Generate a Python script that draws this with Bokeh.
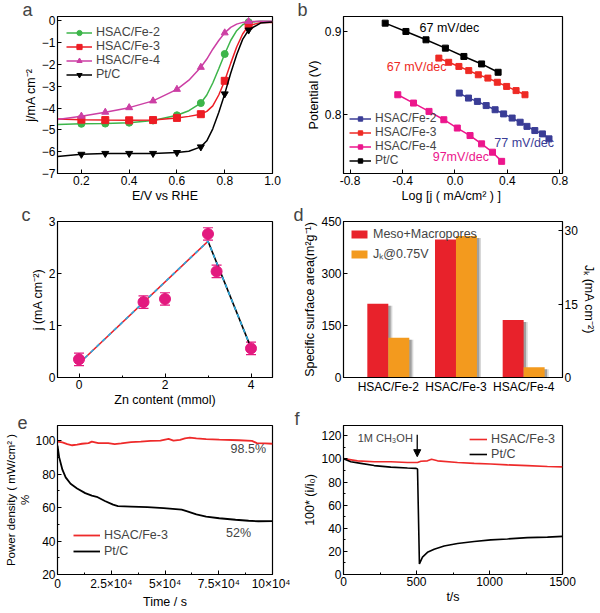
from bokeh.plotting import figure
from bokeh.layouts import gridplot
from bokeh.models import (Range1d, FixedTicker, Label, Legend, LegendItem, LinearAxis,
                          Whisker, TeeHead, Arrow, NormalHead, ColumnDataSource,
                          PrintfTickFormatter)
from bokeh.embed import file_html
from bokeh.resources import INLINE

FONT = "Liberation Sans"

# ---------------- panel a : LSV curves ----------------
E_curve = [0.1, 0.2, 0.3, 0.4, 0.5, 0.6, 0.65, 0.7, 0.725, 0.75, 0.775, 0.8, 0.825, 0.85, 0.875, 0.9, 0.95, 1.0]
j_fe2 = [-4.75, -4.72, -4.71, -4.67, -4.57, -4.33, -4.12, -3.77, -3.4, -2.85, -2.2, -1.52, -0.9, -0.45, -0.18, -0.06, -0.02, -0.03]
j_fe3 = [-4.5, -4.53, -4.55, -4.56, -4.55, -4.45, -4.38, -4.28, -4.15, -3.9, -3.4, -2.75, -1.95, -1.2, -0.6, -0.22, -0.08, -0.08]
j_fe4 = [-4.52, -4.37, -4.19, -3.98, -3.67, -3.14, -2.72, -2.13, -1.75, -1.3, -0.9, -0.55, -0.3, -0.15, -0.07, -0.03, -0.02, -0.02]
j_ptc = [-6.22, -6.12, -6.08, -6.08, -6.08, -6.04, -5.98, -5.78, -5.5, -4.95, -4.2, -3.35, -2.4, -1.55, -0.85, -0.42, -0.1, -0.05]
E_marker = [0.2, 0.3, 0.4, 0.5, 0.6, 0.7, 0.8, 0.9]
a_names = ["HSAC/Fe-2", "HSAC/Fe-3", "HSAC/Fe-4", "Pt/C"]

# ---------------- panel b : Tafel ----------------
logj_fe2 = [0.033, 0.103, 0.171, 0.238, 0.306, 0.371, 0.436, 0.497, 0.549, 0.609, 0.667, 0.717]
V_fe2 = [0.826, 0.820, 0.816, 0.811, 0.806, 0.801, 0.796, 0.791, 0.786, 0.781, 0.777, 0.771]
logj_fe3 = [-0.123, -0.048, 0.030, 0.105, 0.178, 0.251, 0.323, 0.394, 0.466, 0.534]
V_fe3 = [0.868, 0.863, 0.858, 0.853, 0.848, 0.844, 0.839, 0.834, 0.829, 0.824]
logj_fe4 = [-0.436, -0.316, -0.198, -0.085, 0.018, 0.115, 0.203, 0.286, 0.356]
V_fe4 = [0.824, 0.814, 0.804, 0.794, 0.784, 0.775, 0.765, 0.755, 0.744]
logj_ptc = [-0.532, -0.374, -0.221, -0.073, 0.068, 0.203, 0.329]
V_ptc = [0.910, 0.900, 0.890, 0.880, 0.870, 0.861, 0.851]
slopes = ["77 mV/dec", "67 mV/dec", "97mV/dec", "67 mV/dec"]

# ---------------- panel c ----------------
zn = [0, 1.5, 2, 3, 3.2, 4]
j_zn = [0.35, 1.45, 1.51, 2.76, 2.04, 0.56]
j_err = [0.12, 0.12, 0.12, 0.12, 0.12, 0.12]
fit_zn = [0, 3, 4]
fit_j = [0.27, 2.62, 0.57]

# ---------------- panel d ----------------
samples = ["HSAC/Fe-2", "HSAC/Fe-3", "HSAC/Fe-4"]
meso_area = [213, 398, 166]
jk_075 = [8.1, 28.9, 2.1]

# ---------------- panel e ----------------
t_e_fe3 = [0, 2280, 4560, 6840, 9120, 11400, 14440, 15960, 19000, 23560, 26600, 29640, 34200, 38750,
           43310, 47870, 51670, 53950, 56990, 59270, 61550, 64590, 69150, 75230, 84350, 90430, 92710, 96500, 100000]
pd_fe3 = [99.4, 98.9, 97.9, 97.2, 97.6, 98.1, 98.5, 99.4, 98.5, 98.5, 97.9, 98.3, 99.1, 99.4,
          99.8, 100.0, 101.0, 100.0, 100.4, 101.3, 101.7, 101.3, 100.9, 100.6, 100.2, 99.8, 98.5, 98.3, 98.1]
t_e_ptc = [0, 760, 2280, 3800, 6080, 9120, 12900, 15960, 18240, 22040, 25840, 28100, 34200, 41800,
           49400, 57750, 60030, 64590, 69150, 75230, 82830, 88900, 93470, 100000]
pd_ptc = [97.0, 90.1, 82.6, 78.0, 74.2, 71.4, 68.6, 67.1, 66.4, 63.9, 61.7, 60.9, 60.6, 60.2,
          59.6, 58.7, 57.8, 55.9, 54.6, 53.6, 52.7, 52.1, 51.8, 51.9]
e_xticks = [0, 25000, 50000, 75000, 100000]
e_xlabels = ["0", "2.5×10⁴", "5×10⁴", "7.5×10⁴", "10×10⁴"]

# ---------------- panel f ----------------
t_f_fe3 = [0, 96, 210, 324, 438, 507, 530, 575, 603, 644, 781, 895, 1009, 1123, 1260, 1397, 1500]
r_fe3 = [100.3, 98.4, 97.6, 97.6, 97.0, 97.0, 98.1, 98.4, 99.7, 98.4, 97.0, 96.2, 95.7, 94.9, 94.3, 93.5, 93.2]
t_f_ptc = [0, 50, 119, 210, 324, 438, 495, 507, 520, 541, 575, 621, 689, 781, 895, 1009, 1123, 1260, 1397, 1500]
r_ptc = [100.3, 97.6, 96.2, 94.3, 93.0, 92.2, 91.9, 91.4, 9.2, 15.1, 19.2, 21.9, 24.6, 26.8, 28.6, 30.0, 30.8, 31.9, 32.4, 33.0]
methanol_t = 505

# ---------------- helpers ----------------
LW, RW = 290, 308
ROW_H = [205, 204, 202]


def style_axis(ax, tick_font="12px", title_font="12.5px"):
    ax.major_tick_in = 4
    ax.major_tick_out = 0
    ax.minor_tick_in = 2
    ax.minor_tick_out = 0
    ax.major_label_text_font = FONT
    ax.major_label_text_font_size = tick_font
    ax.major_label_text_color = "black"
    ax.axis_label_text_font = FONT
    ax.axis_label_text_font_size = title_font
    ax.axis_label_text_font_style = "normal"
    ax.axis_label_text_color = "black"
    ax.major_label_standoff = 2
    ax.axis_label_standoff = 1
    ax.axis_line_color = "black"
    ax.major_tick_line_color = "black"
    ax.minor_tick_line_color = "black"


def base_fig(w, row, bl, br, xr, yr, letter, dx):
    p = figure(width=w, height=ROW_H[row], x_range=Range1d(*xr), y_range=Range1d(*yr),
               output_backend="svg", toolbar_location=None,
               min_border_left=bl, min_border_right=br, min_border_top=0, min_border_bottom=0,
               background_fill_color="white", border_fill_color="white")
    p.xgrid.visible = False
    p.ygrid.visible = False
    p.outline_line_color = "black"
    p.outline_line_width = 1.2
    for ax in p.axis:
        style_axis(ax)
    # panel letter as the figure title, pulled left of the frame
    p.title.text = letter
    p.title.text_font = FONT
    p.title.text_font_size = "18px"
    p.title.text_font_style = "normal"
    p.title.align = "left"
    p.title.offset = dx
    p.title.standoff = -6
    return p


def legend(items, loc, font="12.5px", gw=24, gh=12, spacing=0, margin=6, padding=2):
    return Legend(items=items, location=loc, label_text_font=FONT, label_text_font_size=font,
                  glyph_width=gw, glyph_height=gh, label_height=gh, spacing=spacing,
                  margin=margin, padding=padding, background_fill_alpha=0, border_line_alpha=0,
                  label_standoff=4)

# ================= panel a =================
pa = base_fig(LW, 0, 53, 15, (0.1, 1.0), (-7.0, 0.2), "a", -35)
pa.xaxis.ticker = FixedTicker(ticks=[0.2, 0.4, 0.6, 0.8, 1.0])
pa.xaxis.formatter = PrintfTickFormatter(format="%.1f")
pa.yaxis.ticker = FixedTicker(ticks=[-7, -6, -5, -4, -3, -2, -1, 0])
pa.xaxis.axis_label = "E/V vs RHE"
pa.yaxis.axis_label = "j/mA cm⁻²"
a_cols = ["#3DB54A", "#ED1C24", "#CC3FA4", "#000000"]
a_marks = ["circle", "square", "triangle", "inverted_triangle"]
a_items = []
for name, ys, col, mk in zip(a_names, [j_fe2, j_fe3, j_fe4, j_ptc], a_cols, a_marks):
    lr = pa.line(E_curve, ys, line_color=col, line_width=1.5)
    mx = [e for e in E_curve if e in E_marker]
    my = [y for e, y in zip(E_curve, ys) if e in E_marker]
    sr = pa.scatter(mx, my, marker=mk, size=7, fill_color=col, line_color=col)
    a_items.append(LegendItem(label=name, renderers=[lr, sr]))
pa.add_layout(legend(a_items, "top_left", margin=7, gw=26, gh=13, spacing=0))

# ================= panel b =================
pb = base_fig(RW, 0, 53, 34, (-0.85, 0.82), (0.7294, 0.918), "b", -46)
pb.xaxis.ticker = FixedTicker(ticks=[-0.8, -0.4, 0.0, 0.4, 0.8])
pb.xaxis.formatter = PrintfTickFormatter(format="%.1f")
pb.yaxis.ticker = FixedTicker(ticks=[0.8, 0.9])
pb.yaxis.formatter = PrintfTickFormatter(format="%.1f")
pb.xaxis.axis_label = "Log  [j ( mA/cm² ) ]"
pb.yaxis.axis_label = "Potential (V)"
b_cols = ["#3A3D96", "#EE2A24", "#EC168C", "#000000"]
b_items = []
for name, xs, ys, col in zip(a_names, [logj_fe2, logj_fe3, logj_fe4, logj_ptc],
                             [V_fe2, V_fe3, V_fe4, V_ptc], b_cols):
    lr = pb.line(xs, ys, line_color=col, line_width=1.5)
    sr = pb.scatter(xs, ys, marker="square", size=6, fill_color=col, line_color=col)
    b_items.append(LegendItem(label=name, renderers=[lr, sr]))
pb.add_layout(legend(b_items, "bottom_left", font="12px", gw=22, gh=11, spacing=-2,
                     margin=4, padding=2))
slope_pos = [(0.30, 0.766), (-0.52, 0.857), (-0.17, 0.749), (-0.27, 0.904)]
for txt, (x, y), col in zip(slopes, slope_pos, b_cols):
    pb.add_layout(Label(x=x, y=y, text=txt, text_font=FONT, text_font_size="12.5px",
                        text_color=col, text_baseline="middle"))

# ================= panel c =================
pc = base_fig(LW, 1, 54, 15, (-0.5, 4.5), (0, 3), "c", -36)
pc.xaxis.ticker = FixedTicker(ticks=[0, 2, 4], minor_ticks=[1, 3])
pc.yaxis.ticker = FixedTicker(ticks=[0, 1, 2, 3])
pc.xaxis.axis_label = "Zn content (mmol)"
pc.yaxis.axis_label = "j (mA cm⁻²)"
pc.line(fit_zn[:2], fit_j[:2], line_color="#ED1C24", line_width=1.6)
pc.line(fit_zn[1:], fit_j[1:], line_color="#000000", line_width=1.6)
pc.line(fit_zn, fit_j, line_color="#29ABE2", line_width=1.6, line_dash="4 4")
c_src = ColumnDataSource(dict(x=zn, y=j_zn,
                              upper=[a + b for a, b in zip(j_zn, j_err)],
                              lower=[a - b for a, b in zip(j_zn, j_err)]))
MAG = "#E3197F"
pc.add_layout(Whisker(source=c_src, base="x", upper="upper", lower="lower", line_color=MAG,
                      line_width=1.2,
                      upper_head=TeeHead(size=10, line_color=MAG, line_width=1.2),
                      lower_head=TeeHead(size=10, line_color=MAG, line_width=1.2)))
pc.scatter("x", "y", source=c_src, marker="circle", size=11, fill_color=MAG, line_color=MAG)

# ================= panel d =================
pd_ = base_fig(RW, 1, 53, 35, (0.338, 3.574), (0, 450), "d", -50)
pd_.extra_y_ranges = {"jk": Range1d(0, 31.87)}
rax = LinearAxis(y_range_name="jk")
style_axis(rax)
rax.ticker = FixedTicker(ticks=[0, 15, 30])
rax.axis_label = "Jₖ (mA cm⁻²)"
pd_.add_layout(rax, "right")
xs_d = [1, 2, 3]
pd_.xaxis.ticker = FixedTicker(ticks=xs_d)
pd_.xaxis.major_label_overrides = {x: s for x, s in zip(xs_d, samples)}
pd_.xaxis.major_tick_in = 0
pd_.yaxis[0].ticker = FixedTicker(ticks=[0, 150, 300, 450])
pd_.yaxis[0].axis_label = "Specific surface area(m²g⁻¹)"
BW = 0.31
red_x = [x - BW / 2 for x in xs_d]
org_x = [x + BW / 2 for x in xs_d]
for off, alpha in [(0.06, 0.18), (0.035, 0.3)]:
    pd_.vbar(x=[x + off for x in red_x], top=[v - 6 for v in meso_area], width=BW,
             fill_color="#222222", fill_alpha=alpha, line_alpha=0)
    pd_.vbar(x=[x + off for x in org_x], top=[v - 0.4 for v in jk_075], width=BW,
             fill_color="#222222", fill_alpha=alpha, line_alpha=0, y_range_name="jk")
rb = pd_.vbar(x=red_x, top=meso_area, width=BW, fill_color="#E8222B", line_alpha=0)
ob = pd_.vbar(x=org_x, top=jk_075, width=BW, fill_color="#F39A1E", line_alpha=0, y_range_name="jk")
pd_.add_layout(legend([LegendItem(label="Meso+Macropores", renderers=[rb]),
                       LegendItem(label="Jₖ@0.75V", renderers=[ob])],
                      "top_left", font="12.5px", gw=20, gh=10, spacing=4, margin=4))

# ================= panel e =================
pe = base_fig(LW, 2, 57, 18, (0, 100000), (20, 109), "e", -40)
pe.xaxis.ticker = FixedTicker(ticks=e_xticks, minor_ticks=[12500, 37500, 62500, 87500])
pe.xaxis.major_label_overrides = {x: s for x, s in zip(e_xticks, e_xlabels)}
pe.yaxis.ticker = FixedTicker(ticks=[20, 40, 60, 80, 100], minor_ticks=[30, 50, 70, 90])
pe.xaxis.axis_label = "Time / s"
pe.yaxis.axis_label = "Power density ( mW/cm² )\n%"
pe.yaxis.axis_label_text_font_size = "11.5px"
er = pe.line(t_e_fe3, pd_fe3, line_color="#EE2A2A", line_width=1.8)
eb = pe.line(t_e_ptc, pd_ptc, line_color="#000000", line_width=1.8)
pe.add_layout(legend([LegendItem(label="HSAC/Fe-3", renderers=[er]),
                      LegendItem(label="Pt/C", renderers=[eb])],
                     "bottom_left", font="12.5px", gw=27, gh=12, spacing=2, margin=14))
pe.add_layout(Label(x=97000, y=95, text="98.5%", text_font=FONT, text_font_size="12.5px",
                    text_align="right", text_baseline="middle"))
pe.add_layout(Label(x=90000, y=45, text="52%", text_font=FONT, text_font_size="12.5px",
                    text_align="right", text_baseline="middle"))

# ================= panel f =================
pf = base_fig(RW, 2, 52, 35, (0, 1500), (0, 129), "f", -49)
pf.xaxis.ticker = FixedTicker(ticks=[0, 500, 1000, 1500], minor_ticks=[250, 750, 1250])
pf.yaxis.ticker = FixedTicker(ticks=[0, 20, 40, 60, 80, 100, 120],
                              minor_ticks=[10, 30, 50, 70, 90, 110])
pf.xaxis.axis_label = "t/s"
pf.yaxis.axis_label = "100* (i/i₀)"
fr = pf.line(t_f_fe3, r_fe3, line_color="#EE2A2A", line_width=1.6)
fb = pf.line(t_f_ptc, r_ptc, line_color="#000000", line_width=1.6)
pf.add_layout(legend([LegendItem(label="HSAC/Fe-3", renderers=[fr]),
                      LegendItem(label="Pt/C", renderers=[fb])],
                     "top_right", font="12.5px", gw=18, gh=12, spacing=1, margin=5))
pf.add_layout(Arrow(x_start=methanol_t, y_start=121, x_end=methanol_t, y_end=102,
                    line_color="black", line_width=1.3,
                    end=NormalHead(size=7, fill_color="black", line_color="black")))
pf.add_layout(Label(x=methanol_t - 30, y=118, text="1M CH₃OH", text_font=FONT,
                    text_font_size="11px", text_align="right", text_baseline="middle"))

grid = gridplot([[pa, pb], [pc, pd_], [pe, pf]], toolbar_location=None)
open("out.html", "w").write(file_html(grid, INLINE))
